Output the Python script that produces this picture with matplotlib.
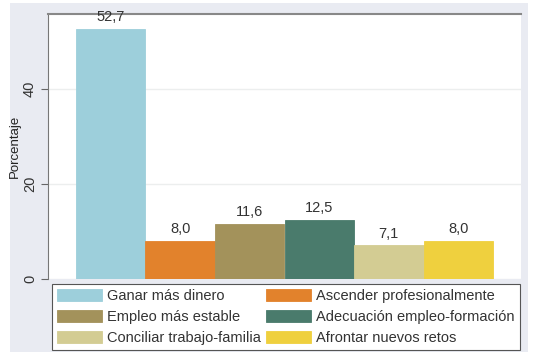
import matplotlib
matplotlib.use('Agg')
import matplotlib.pyplot as plt
from matplotlib.patches import Rectangle

# Motivos y porcentajes
motivos = [
    'Ganar más dinero', 'Ascender profesionalmente', 'Empleo más estable',
    'Adecuación empleo-formación', 'Conciliar trabajo-familia', 'Afrontar nuevos retos'
]
porcentajes = [52.7, 8.0, 11.6, 12.5, 7.1, 8.0]
etiquetas = ['52,7', '8,0', '11,6', '12,5', '7,1', '8,0']
colores = ['#9dcfdb', '#e2822c', '#a3925b', '#4a7b6c', '#d3cc93', '#efd03e']
ticks_y = [0, 20, 40]

plt.rcParams['font.family'] = ['Liberation Sans', 'DejaVu Sans']

fig = plt.figure(figsize=(5.36, 3.55), dpi=100)
W, H = 536, 355

# fondo gris del gráfico
fig.patches.append(Rectangle((10 / W, 1 - 352 / H), 518 / W, 349 / H,
                             transform=fig.transFigure, facecolor='#e9ebf2',
                             edgecolor='none', zorder=-10))

ax = fig.add_axes([48 / W, 1 - 279 / H, 473 / W, 265 / H])
ax.set_zorder(1)
ax.set_facecolor('white')

x = list(range(len(porcentajes)))
barras = ax.bar(x, porcentajes, width=1.0, color=colores, edgecolor=colores,
                linewidth=0.6, zorder=2)
for xi, v, t in zip(x, porcentajes, etiquetas):
    ax.text(xi, v + 1.0, t, ha='center', va='bottom', fontsize=10.5,
            color='#333333', clip_on=False, zorder=4)

ax.set_xlim(-0.9, 5.9)
ax.set_ylim(0, 55.8)
ax.set_yticks(ticks_y)
ax.set_yticklabels([str(t) for t in ticks_y], rotation=90, va='center',
                   fontsize=10.5, color='#333333')
ax.set_xticks([])
ax.set_ylabel('Porcentaje', fontsize=9.5, color='#222222')
ax.yaxis.set_label_coords(-27 / 473, 0.5)
ax.yaxis.grid(True, color='#eceeee', linewidth=1, zorder=1)
ax.set_axisbelow(True)
ax.tick_params(axis='y', length=5, color='#666666', pad=3)

for lado in ['right', 'bottom']:
    ax.spines[lado].set_visible(False)
ax.spines['left'].set_color('#777777')
ax.spines['top'].set_color('#888888')
ax.spines['top'].set_linewidth(1.5)

# leyenda en dos columnas
orden = [0, 2, 4, 1, 3, 5]
leg = fig.legend([barras[i] for i in orden], [motivos[i] for i in orden],
                 ncol=2, loc='upper left',
                 bbox_to_anchor=(52 / W, 1 - 284 / H),
                 fontsize=10.5, frameon=True, fancybox=False,
                 edgecolor='#555555', facecolor='white', framealpha=1,
                 handlelength=3.1, handleheight=0.9, handletextpad=0.35,
                 columnspacing=0.3, labelspacing=0.48, borderpad=0.35,
                 borderaxespad=0)
leg.set_zorder(5)
leg.get_frame().set_linewidth(0.8)
for t in leg.get_texts():
    t.set_color('#333333')

fig.savefig('out.png', dpi=100, facecolor='white')
